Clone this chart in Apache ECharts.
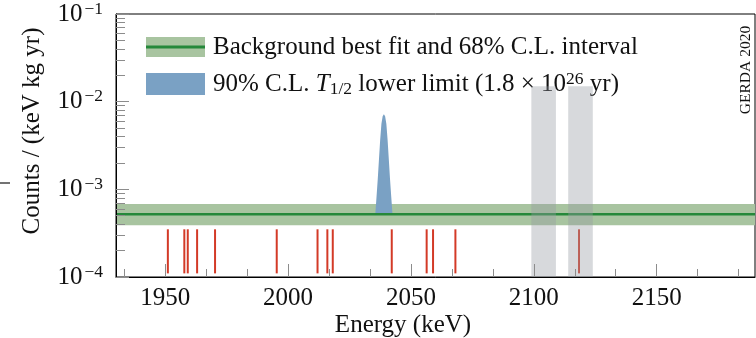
<!DOCTYPE html>
<html><head><meta charset="utf-8">
<script src="https://cdn.jsdelivr.net/npm/echarts@6/dist/echarts.min.js"></script>
<style>html,body{margin:0;padding:0;background:#fff}#c{width:756px;height:338px}</style>
</head><body><div id="c"></div>
<script>
// ---- axes ----
const xMin = 1930, xMax = 2190;
const yMin = 1e-4, yMax = 1e-1;
const xTickLabels = [1950, 2000, 2050, 2100, 2150];
const xMinorTicks = [1933.333, 1966.667, 1983.333, 2016.667, 2033.333, 2066.667, 2083.333, 2116.667, 2133.333, 2166.667, 2183.333];
const yTickExponents = [-4, -3, -2, -1];
const yMinorTicks = [2e-4, 3e-4, 4e-4, 5e-4, 6e-4, 7e-4, 8e-4, 9e-4,
                     2e-3, 3e-3, 4e-3, 5e-3, 6e-3, 7e-3, 8e-3, 9e-3,
                     2e-2, 3e-2, 4e-2, 5e-2, 6e-2, 7e-2, 8e-2, 9e-2];
// ---- background model ----
const bgBestFit = 5.2e-4;
const bgLow = 3.9e-4;
const bgHigh = 6.8e-4;
// ---- signal peak (background + signal at 90% C.L. limit) ----
const peakEnergy = [2035.5, 2036, 2036.5, 2037, 2037.5, 2038, 2038.5, 2039, 2039.5, 2040, 2040.5, 2041, 2041.5, 2042, 2042.5];
const peakCounts = [5.2e-4, 8.2e-4, 1.3e-3, 2.2e-3, 3.7e-3, 5.6e-3, 6.8e-3, 7.2e-3, 6.8e-3, 5.6e-3, 3.7e-3, 2.2e-3, 1.3e-3, 8.2e-4, 5.2e-4];
// ---- events ----
const eventEnergy = [1951.1, 1957.8, 1959.2, 1963.0, 1970.3, 1995.4, 2012.0, 2016.0, 2018.2, 2042.2, 2056.4, 2059.0, 2068.1, 2118.4];
const eventLow = 1.1e-4;
const eventHigh = 3.5e-4;
// ---- excluded gamma-line windows ----
const excludedStart = [2099, 2114];
const excludedEnd = [2109, 2124];
const excludedTop = 1.5e-2;

const FONT = 'Liberation Serif';
const C_BAND = '#a8c4a0';
const C_LINE = '#25883a';
const C_BLUE = '#7aa1c4';
const C_RED = '#d33a27';
const C_GRAY = 'rgba(150,154,164,0.38)';
const C_TICK = '#8c8c8c';

const chart = echarts.init(document.getElementById('c'), null, {renderer: 'canvas'});

const peakData = peakEnergy.map((e, i) => [e, peakCounts[i]]);

const option = {
  animation: false,
  grid: {left: 116, right: 1, top: 14, bottom: 61, show: true, borderColor: '#000', borderWidth: 1, backgroundColor: 'transparent'},
  xAxis: [{
    type: 'value', min: xMin, max: xMax, z: 10,
    axisLine: {show: true, lineStyle: {color: '#000', width: 1}},
    axisTick: {show: true, inside: true, length: 13, customValues: xTickLabels, lineStyle: {color: C_TICK, width: 1}},
    axisLabel: {customValues: xTickLabels, margin: 9, fontFamily: FONT, fontSize: 25, color: '#111', formatter: v => String(v)},
    splitLine: {show: false}
  }, {
    type: 'value', min: xMin, max: xMax, position: 'bottom', z: 10,
    axisLine: {show: false},
    axisTick: {show: true, inside: true, length: 8, customValues: xMinorTicks, lineStyle: {color: C_TICK, width: 1}},
    axisLabel: {show: false, customValues: xMinorTicks},
    splitLine: {show: false}
  }],
  yAxis: [{
    type: 'log', logBase: 10, min: yMin, max: yMax, z: 10,
    axisLine: {show: true, lineStyle: {color: '#000', width: 1}},
    axisTick: {show: true, inside: true, length: 13, customValues: yTickExponents.map(e => Math.pow(10, e)), lineStyle: {color: C_TICK, width: 1}},
    axisLabel: {
      customValues: yTickExponents.map(e => Math.pow(10, e)), margin: 13,
      formatter: v => '{b|10}{s|\u2212' + Math.abs(Math.round(Math.log10(v))) + '}',
      rich: {
        b: {fontFamily: FONT, fontSize: 25, color: '#111', lineHeight: 28},
        s: {fontFamily: FONT, fontSize: 17.5, color: '#111', lineHeight: 16, verticalAlign: 'top', padding: [0, 0, 0, 2]}
      }
    },
    splitLine: {show: false}
  }, {
    type: 'log', logBase: 10, min: yMin, max: yMax, position: 'left', z: 10,
    axisLine: {show: false},
    axisTick: {show: true, inside: true, length: 9, customValues: yMinorTicks, lineStyle: {color: C_TICK, width: 1}},
    axisLabel: {show: false, customValues: yMinorTicks},
    splitLine: {show: false}
  }],
  series: [
    { // background band
      type: 'custom', z: 1, silent: true,
      data: [[xMin, bgLow, xMax, bgHigh]],
      encode: {x: [0, 2], y: [1, 3]},
      renderItem: (params, api) => {
        const p0 = api.coord([api.value(0), api.value(1)]);
        const p1 = api.coord([api.value(2), api.value(3)]);
        return {type: 'rect', shape: {x: p0[0], y: p1[1], width: p1[0] - p0[0], height: p0[1] - p1[1]}, style: {fill: C_BAND}};
      }
    },
    { // signal peak
      type: 'custom', z: 2, silent: true,
      data: peakData,
      encode: {x: 0, y: 1},
      renderItem: (params, api) => {
        if (params.dataIndex !== 0) return null;
        const pts = peakData.map(d => api.coord(d));
        return {type: 'polygon', shape: {points: pts}, style: {fill: C_BLUE}};
      }
    },
    { // best fit line
      type: 'line', z: 3, silent: true, symbol: 'none',
      data: [[xMin, bgBestFit], [xMax, bgBestFit]],
      lineStyle: {color: C_LINE, width: 2.6}
    },
    { // events
      type: 'custom', z: 4, silent: true,
      data: eventEnergy.map(e => [e, eventLow, eventHigh]),
      encode: {x: 0, y: [1, 2]},
      renderItem: (params, api) => {
        const a = api.coord([api.value(0), api.value(1)]);
        const b = api.coord([api.value(0), api.value(2)]);
        return {type: 'line', shape: {x1: a[0], y1: a[1], x2: b[0], y2: b[1]}, style: {stroke: C_RED, lineWidth: 2}};
      }
    },
    { // excluded windows
      type: 'custom', z: 5, silent: true,
      data: excludedStart.map((s, i) => [s, yMin, excludedEnd[i], excludedTop]),
      encode: {x: [0, 2], y: [1, 3]},
      renderItem: (params, api) => {
        const p0 = api.coord([api.value(0), api.value(1)]);
        const p1 = api.coord([api.value(2), api.value(3)]);
        return {type: 'rect', shape: {x: p0[0], y: p1[1], width: p1[0] - p0[0], height: p0[1] - p1[1]}, style: {fill: C_GRAY}};
      }
    }
  ],
  graphic: [
    {type: 'rect', shape: {x: 146, y: 37, width: 59, height: 20}, style: {fill: C_BAND}},
    {type: 'line', shape: {x1: 146, y1: 47, x2: 205, y2: 47}, style: {stroke: C_LINE, lineWidth: 3}},
    {type: 'rect', shape: {x: 146, y: 73, width: 59, height: 22}, style: {fill: C_BLUE}},
    {type: 'text', x: 213, y: 47, style: {text: 'Background best fit and 68% C.L. interval', fontFamily: FONT, fontSize: 25, fill: '#111', verticalAlign: 'middle'}},
    {type: 'text', x: 213, y: 84, style: {
      text: '{r|90% C.L. }{i|T}{sub|1/2}{r| lower limit (1.8 \u00d7 10}{sup|26}{r| yr)}',
      verticalAlign: 'middle',
      rich: {
        r: {fontFamily: FONT, fontSize: 25, fill: '#111', lineHeight: 28},
        i: {fontFamily: FONT, fontSize: 25, fontStyle: 'italic', fill: '#111', lineHeight: 28},
        sub: {fontFamily: FONT, fontSize: 17.5, fill: '#111', lineHeight: 14, verticalAlign: 'bottom'},
        sup: {fontFamily: FONT, fontSize: 17.5, fill: '#111', lineHeight: 14, verticalAlign: 'top'}
      }
    }},
    {type: 'text', x: 746, y: 70, rotation: Math.PI / 2, style: {text: 'GERDA 2020', fontFamily: FONT, fontSize: 15.5, fill: '#111', align: 'center', verticalAlign: 'middle'}},
    {type: 'text', x: 32.5, y: 131, rotation: Math.PI / 2, style: {text: 'Counts / (keV kg yr)', fontFamily: FONT, fontSize: 25, fill: '#111', align: 'center', verticalAlign: 'middle'}},
    {type: 'text', x: 403, y: 325, style: {text: 'Energy (keV)', fontFamily: FONT, fontSize: 25, fill: '#111', align: 'center', verticalAlign: 'middle'}},
    {type: 'line', shape: {x1: 0, y1: 183, x2: 10, y2: 183}, style: {stroke: '#444', lineWidth: 1.5}}
  ]
};
chart.setOption(option);
</script>
</body></html>
